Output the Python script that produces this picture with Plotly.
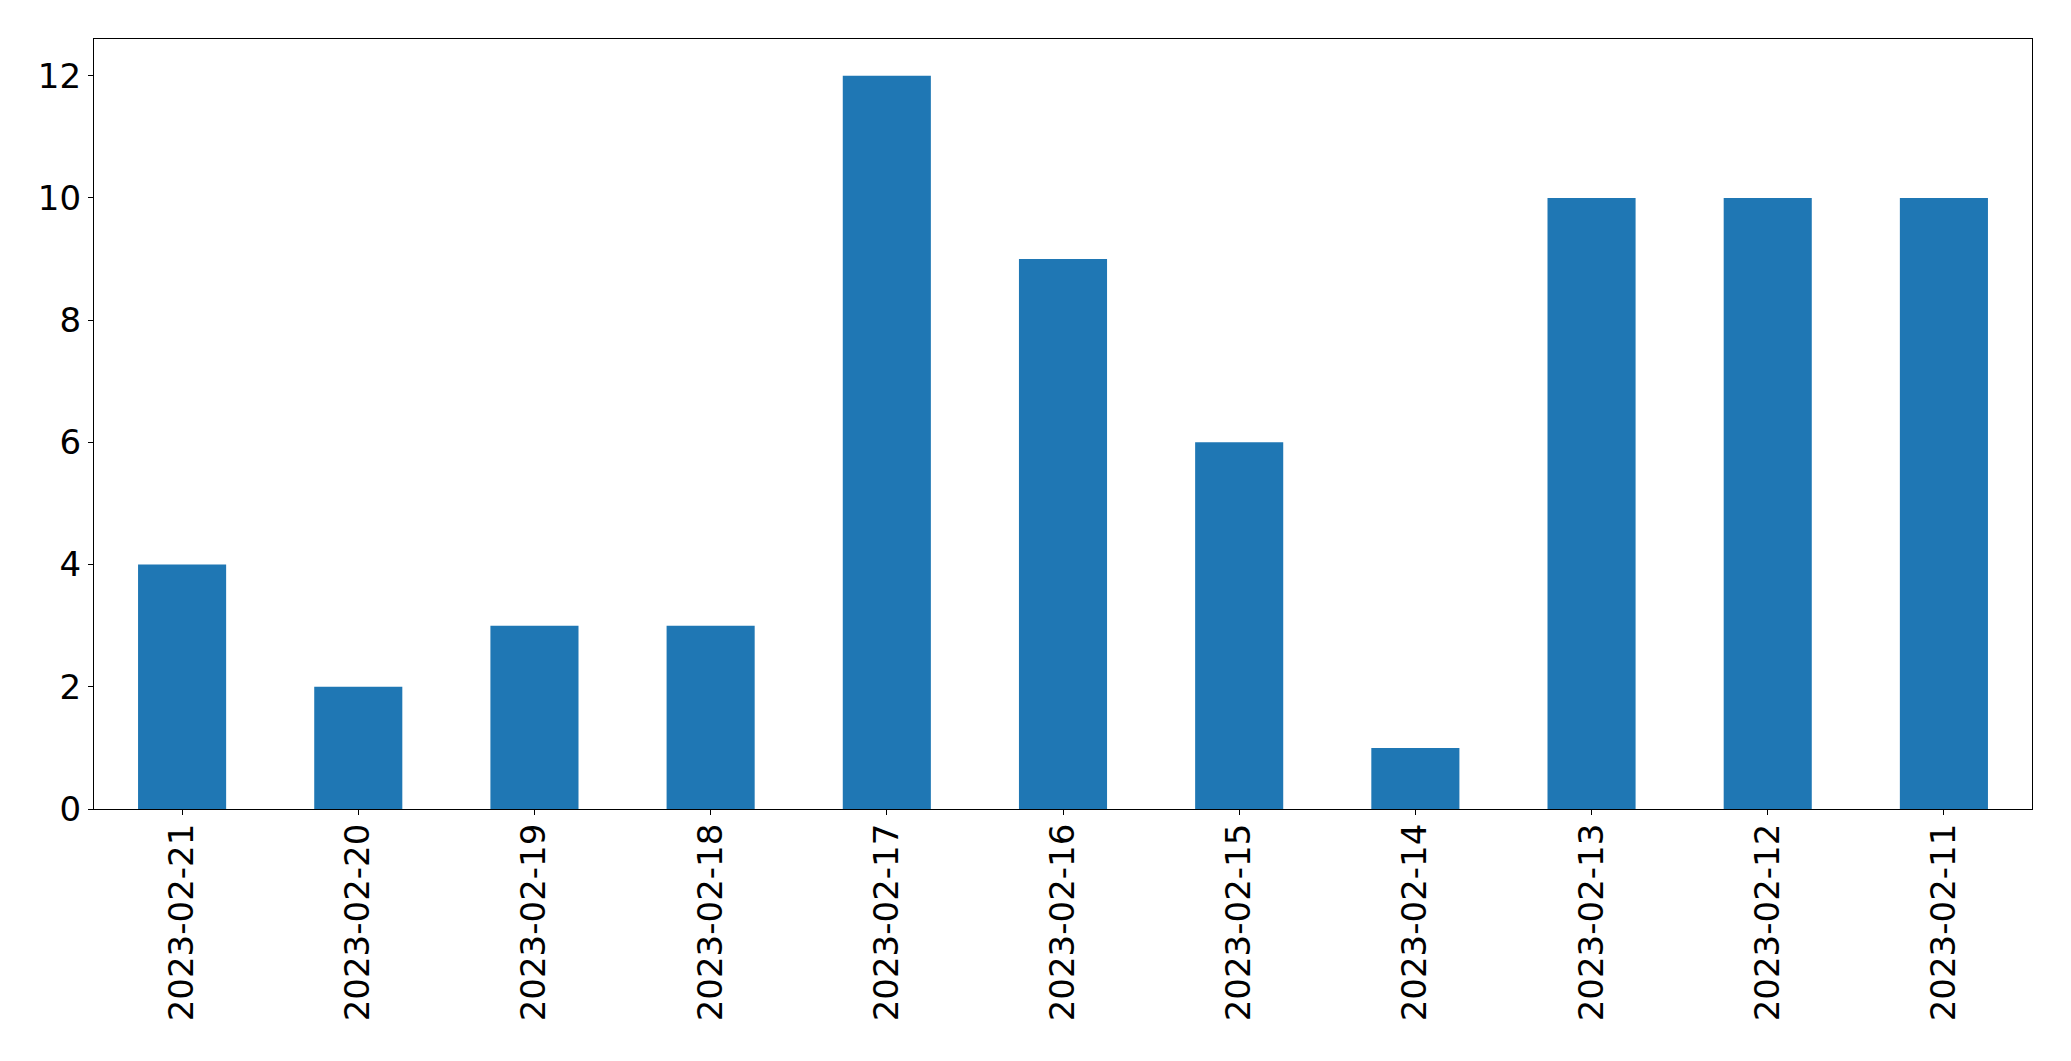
import plotly.graph_objects as go

dates = ["2023-02-21", "2023-02-20", "2023-02-19", "2023-02-18", "2023-02-17",
         "2023-02-16", "2023-02-15", "2023-02-14", "2023-02-13", "2023-02-12", "2023-02-11"]
counts = [4, 2, 3, 3, 12, 9, 6, 1, 10, 10, 10]
y_ticks = [0, 2, 4, 6, 8, 10, 12]

fig = go.Figure(go.Bar(x=dates, y=counts, marker=dict(color="#1f77b4", line=dict(width=0)), width=0.5))

axis_common = dict(
    showgrid=False, zeroline=False, showline=True, linecolor="black", linewidth=1.2,
    mirror=True, ticks="outside", ticklen=5, tickwidth=1.2, tickcolor="black",
    tickfont=dict(family="DejaVu Sans", size=34, color="black"),
)
fig.update_xaxes(type="category", range=[-0.5, 10.5], tickangle=-90,
                 ticklabelstandoff=-5, **axis_common)
fig.update_yaxes(range=[0, 12.6], tickvals=y_ticks, **axis_common)

fig.update_layout(
    width=2063, height=1053,
    margin=dict(l=86, r=39, t=31, b=252, autoexpand=False),
    plot_bgcolor="white", paper_bgcolor="white",
    showlegend=False, bargap=0.5,
)
fig.write_html("out.html")
